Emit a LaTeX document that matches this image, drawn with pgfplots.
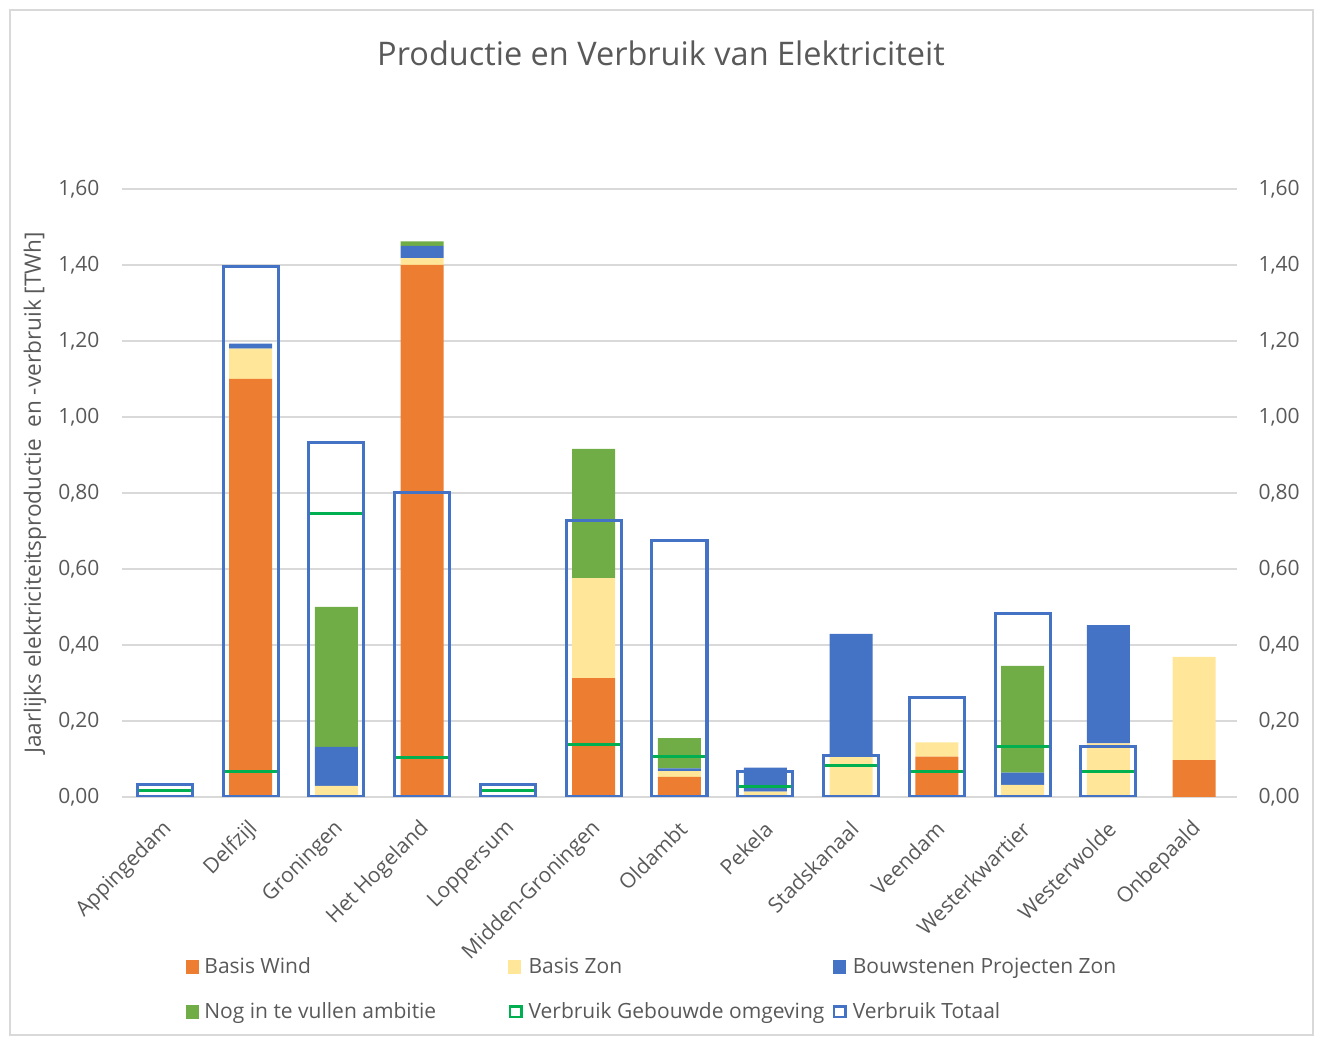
\documentclass[border=0pt]{standalone}
\usepackage{fontspec}
\setmainfont{Open Sans}
\usepackage{pgfplots}
\pgfplotsset{compat=1.18}
\definecolor{cWind}{HTML}{ED7D31}
\definecolor{cZon}{HTML}{FFE699}
\definecolor{cBouw}{HTML}{4472C4}
\definecolor{cNog}{HTML}{70AD47}
\definecolor{cGeb}{HTML}{00B050}
\definecolor{cTot}{HTML}{4472C4}
\definecolor{cText}{HTML}{595959}
\definecolor{cGrid}{HTML}{D9D9D9}
\newcommand{\bodyfont}{\fontsize{21}{25}\selectfont}
\pgfplotsset{
  common/.style={
    at={(122pt,241pt)}, anchor=south west, scale only axis,
    width=1115pt, height=608pt,
    xmin=-0.5, xmax=12.5, ymin=0, ymax=1.6,
    axis line style={draw=none}, major tick length=0pt,
    ytick={0,0.2,0.4,0.6,0.8,1.0,1.2,1.4,1.6},
    tick label style={font=\bodyfont, text=cText},
    yticklabel style={/pgf/number format/fixed, /pgf/number format/fixed zerofill,
      /pgf/number format/precision=2, /pgf/number format/use comma,
      /pgf/number format/assume math mode=true},
  }
}
\begin{document}
\begin{tikzpicture}
\path[use as bounding box] (0pt,0pt) rectangle (1318pt,1038pt);
\draw[cGrid, line width=1.5pt] (10pt,3pt) rectangle (1313pt,1028pt);
\node[font=\fontsize{32.5}{39}\selectfont, text=cText, anchor=base] at (661pt,972pt) {Productie en Verbruik van Elektriciteit};

\begin{axis}[common,
  ybar stacked, bar width=43pt,
  ymajorgrids, grid style={cGrid, line width=1.5pt},
  yticklabel style={xshift=-19pt},
  xtick={0,...,12},
  xticklabels={Appingedam,Delfzijl,Groningen,Het Hogeland,Loppersum,Midden-Groningen,Oldambt,Pekela,Stadskanaal,Veendam,Westerkwartier,Westerwolde,Onbepaald},
  xticklabel style={xshift=6pt, yshift=-26pt, rotate=45, anchor=east},
  ylabel={Jaarlijks elektriciteitsproductie\ \ en -verbruik [TWh]},
  every axis y label/.style={at={(axis description cs:0,0.5)}, xshift=-87pt, rotate=90, anchor=center, font=\fontsize{22.6}{27}\selectfont, text=cText},
]
\addplot[fill=cWind, draw=none] coordinates {(0,0) (1,1.10) (2,0) (3,1.40) (4,0) (5,0.313) (6,0.053) (7,0) (8,0) (9,0.106) (10,0) (11,0) (12,0.097)};
\addplot[fill=cZon, draw=none] coordinates {(0,0) (1,0.08) (2,0.029) (3,0.018) (4,0) (5,0.263) (6,0.015) (7,0.014) (8,0.106) (9,0.038) (10,0.032) (11,0.141) (12,0.272)};
\addplot[fill=cBouw, draw=none] coordinates {(0,0) (1,0.013) (2,0.103) (3,0.032) (4,0) (5,0) (6,0.007) (7,0.063) (8,0.323) (9,0) (10,0.032) (11,0.311) (12,0)};
\addplot[fill=cNog, draw=none] coordinates {(0,0) (1,0) (2,0.368) (3,0.012) (4,0) (5,0.34) (6,0.08) (7,0) (8,0) (9,0) (10,0.281) (11,0) (12,0)};
\end{axis}

\begin{axis}[common,
  ybar, bar width=55pt,
  xtick=\empty,
  yticklabel pos=right,
  yticklabel style={xshift=18pt},
  legend columns=3,
  legend style={at={(axis description cs:0.0574,-0.263)}, anchor=north west,
    draw=none, fill=none, inner sep=0pt, outer sep=0pt,
    font=\bodyfont, text=cText, row sep=25pt,
    cells={anchor=west},
    nodes={inner sep=0pt, text height=17pt, text depth=3pt}},
]
\addplot[forget plot, bar shift=0pt, draw=cGeb, fill=none, line width=3pt] coordinates {(0,0.018) (1,0.068) (2,0.747) (3,0.103) (4,0.018) (5,0.139) (6,0.107) (7,0.027) (8,0.084) (9,0.068) (10,0.133) (11,0.066)};
\addplot[forget plot, bar shift=0pt, draw=cTot, fill=none, line width=3pt] coordinates {(0,0.032) (1,1.397) (2,0.932) (3,0.80) (4,0.032) (5,0.727) (6,0.674) (7,0.066) (8,0.108) (9,0.262) (10,0.482) (11,0.134)};
\addlegendimage{legend image code/.code={\fill[cWind] (0pt,-6.5pt) rectangle (12pt,6.5pt);}}
\addlegendentry{\makebox[310pt][l]{\hspace{6pt}Basis Wind}}
\addlegendimage{legend image code/.code={\fill[cZon] (0pt,-6.5pt) rectangle (12pt,6.5pt);}}
\addlegendentry{\makebox[310pt][l]{\hspace{6pt}Basis Zon}}
\addlegendimage{legend image code/.code={\fill[cBouw] (0pt,-6.5pt) rectangle (12pt,6.5pt);}}
\addlegendentry{\makebox[310pt][l]{\hspace{6pt}Bouwstenen Projecten Zon}}
\addlegendimage{legend image code/.code={\fill[cNog] (0pt,-6.5pt) rectangle (12pt,6.5pt);}}
\addlegendentry{\makebox[310pt][l]{\hspace{6pt}Nog in te vullen ambitie}}
\addlegendimage{legend image code/.code={\draw[cGeb, line width=2.5pt] (1.25pt,-5.25pt) rectangle (12.75pt,5.25pt);}}
\addlegendentry{\makebox[310pt][l]{\hspace{6pt}Verbruik Gebouwde omgeving}}
\addlegendimage{legend image code/.code={\draw[cTot, line width=2.5pt] (1.25pt,-5.25pt) rectangle (12.75pt,5.25pt);}}
\addlegendentry{\makebox[310pt][l]{\hspace{6pt}Verbruik Totaal}}
\end{axis}
\end{tikzpicture}
\end{document}
